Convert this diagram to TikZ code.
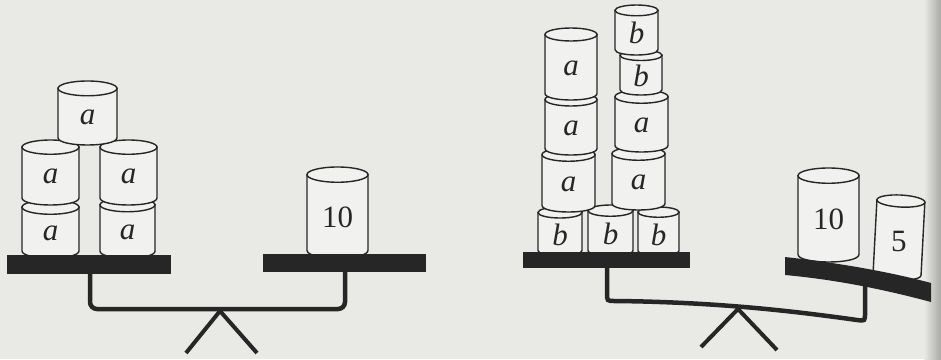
\documentclass[tikz,border=0pt]{standalone}
\usepackage{fontspec}
\setmainfont{Liberation Serif}
\usepackage{tikz}
\usepackage{xcolor}

\definecolor{paper}{RGB}{233,233,230}
\definecolor{ink}{RGB}{38,38,38}
\definecolor{tinface}{RGB}{241,241,239}

% one tin: #1 name, #2 centre x, #3 top, #4 bottom, #5 half width, #6 label
\newcommand{\drawcan}[6]{%
  \pgfmathsetmacro{\canry}{0.25*#5}
  \filldraw[tin] (#2-#5,#3+\canry) -- (#2-#5,#4-\canry)
    .. controls (#2-#5,#4+\canry/3) and (#2+#5,#4+\canry/3) .. (#2+#5,#4-\canry)
    -- (#2+#5,#3+\canry) -- cycle;
  \filldraw[tin] (#2,#3+\canry) ellipse [x radius=#5pt, y radius=\canry pt];
  \node[canlabel] (#1) at (#2,{(#3+#4)/2+0.6*\canry}) {#6};
}

\begin{document}
\begin{tikzpicture}[x=1pt,y=-1pt,
  tin/.style={draw=ink,fill=tinface,line width=1.4pt},
  canlabel/.style={font=\fontsize{31}{34}\selectfont,text=ink,inner sep=0pt},
  pan/.style={fill=ink},
  beam/.style={draw=ink,line width=4.5pt},
  stand/.style={draw=ink,line width=4pt}]

 % paper
 \fill[paper] (0,0) rectangle (941,359);
 \shade[left color=paper,right color=paper!72!black] (924,0) rectangle (941,359);
 \useasboundingbox (0,0) rectangle (941,359);

 % left scale: five a-tins against one 10
 \drawcan{la1}{50.5}{200}{258}{28.5}{\textit{a}}
 \drawcan{la2}{127.5}{198}{258}{27.5}{\textit{a}}
 \drawcan{la3}{50.5}{140}{205}{28.5}{\textit{a}}
 \drawcan{la4}{128.5}{140}{205}{28.5}{\textit{a}}
 \drawcan{la5}{87.5}{81}{145}{29.5}{\textit{a}}
 \drawcan{lten}{337.5}{167}{258}{30.5}{10}

 \fill[pan] (7,255) rectangle (171,274);
 \fill[pan] (263,254) rectangle (426,272);
 \draw[beam,rounded corners=7pt] (90,272) -- (90,309) -- (345,309) -- (345,271);
 \draw[stand] (186,353) -- (220,311) -- (257,353);

 % right scale: bottom row of b-tins, two columns on top
 \drawcan{rb1}{560}{207}{256}{22}{\textit{b}}
 \drawcan{rb2}{610.5}{205}{256}{22.5}{\textit{b}}
 \drawcan{rb3}{658.5}{207}{256}{20.5}{\textit{b}}
 \drawcan{ra1}{568.5}{148}{212}{26.5}{\textit{a}}
 \drawcan{ra2}{638.5}{147}{210}{26.5}{\textit{a}}
 \drawcan{ra3}{571}{93}{155}{26}{\textit{a}}
 \drawcan{ra4}{641.5}{90}{152}{26.5}{\textit{a}}
 \drawcan{ra5}{571}{28}{100}{26}{\textit{a}}
 \drawcan{rb4}{641}{50}{95}{21}{\textit{b}}
 \drawcan{rb5}{636.5}{5}{55}{21.5}{\textit{b}}

 % the heavier side, tipped down
 \drawcan{rten}{828.5}{168}{262}{30.5}{10}
 \begin{scope}[rotate around={-3:(899,237)}]
  \drawcan{rfive}{899}{195}{280}{24}{5}
 \end{scope}

 \fill[pan] (523,252) rectangle (690,268);
 \fill[pan] (785,257) .. controls (840,263) and (890,272) .. (931,283)
   -- (931,302) .. controls (890,291) and (840,280) .. (785,275) -- cycle;
 \draw[beam] (607,267) -- (607,293) .. controls (607,301) .. (615,301)
   .. controls (720,302) and (800,312) .. (857,320)
   .. controls (865,321) .. (865,313) -- (865,285);
 \draw[stand] (701,347) -- (738,309) -- (777,350);

\end{tikzpicture}
\end{document}
